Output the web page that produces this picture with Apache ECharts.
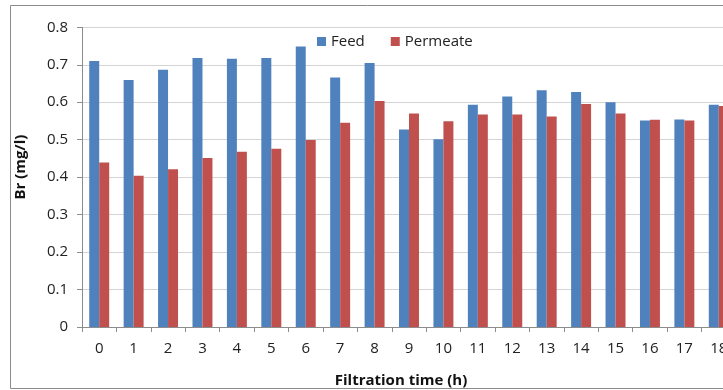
<!DOCTYPE html>
<html><head><meta charset="utf-8">
<script src="https://cdn.jsdelivr.net/npm/echarts@6/dist/echarts.min.js"></script>
<style>html,body{margin:0;padding:0;background:#fff}#c{width:723px;height:390px}</style>
</head><body><div id="c"></div>
<script>
const categories = ['0','1','2','3','4','5','6','7','8','9','10','11','12','13','14','15','16','17','18'];
const feed = [0.710,0.659,0.687,0.718,0.716,0.718,0.749,0.666,0.705,0.527,0.501,0.593,0.615,0.632,0.627,0.600,0.551,0.554,0.593];
const permeate = [0.439,0.404,0.421,0.451,0.468,0.476,0.499,0.545,0.603,0.570,0.549,0.567,0.567,0.562,0.595,0.570,0.553,0.551,0.590];
const yTicks = {min:0, max:0.8, interval:0.1};

const chart = echarts.init(document.getElementById('c'), null, {renderer:'canvas'});
const font = '"Open Sans", "Liberation Sans", sans-serif';
chart.setOption({
  animation:false,
  backgroundColor:'#fff',
  textStyle:{fontFamily:font},
  graphic:[{type:'rect', shape:{x:10.5,y:5.5,width:800,height:383}, style:{fill:'none', stroke:'#8c8c8c', lineWidth:1}, silent:true}],
  legend:{
    left:312, top:29, icon:'rect', itemWidth:9, itemHeight:9, itemGap:26, itemStyle:{borderWidth:0},
    textStyle:{fontSize:15, color:'#222', fontFamily:font},
    data:['Feed','Permeate']
  },
  grid:{left:82, width:654, top:27.3, height:299.7, containLabel:false, outerBoundsMode:'none'},
  xAxis:{
    type:'category', data:categories,
    name:'Filtration time (h)', nameLocation:'middle', nameGap:46,
    nameTextStyle:{fontWeight:'bold', fontSize:15, color:'#111', fontFamily:font, padding:[0,16,0,0]},
    axisLine:{lineStyle:{color:'#8c8c8c'}},
    axisTick:{show:true, length:5, lineStyle:{color:'#8c8c8c'}, alignWithLabel:false},
    axisLabel:{fontSize:15, color:'#222', margin:14, interval:0}
  },
  yAxis:{
    type:'value', min:yTicks.min, max:yTicks.max, interval:yTicks.interval,
    name:'Br (mg/l)', nameLocation:'middle', nameGap:54, nameRotate:90,
    nameTextStyle:{fontWeight:'bold', fontSize:15, color:'#111', fontFamily:font, padding:[0,0,0,20]},
    axisLine:{show:true, lineStyle:{color:'#8c8c8c'}},
    axisTick:{show:true, length:5, lineStyle:{color:'#8c8c8c'}},
    axisLabel:{fontSize:15, color:'#222', margin:14, formatter:v=>String(Math.round(v*10)/10)},
    splitLine:{lineStyle:{color:'#d4d4d4'}}
  },
  series:[
    {name:'Feed', type:'bar', data:feed, barGap:'0%', barCategoryGap:'42%', itemStyle:{color:'#4F81BD'}},
    {name:'Permeate', type:'bar', data:permeate, itemStyle:{color:'#C0504D'}}
  ]
});
</script></body></html>
